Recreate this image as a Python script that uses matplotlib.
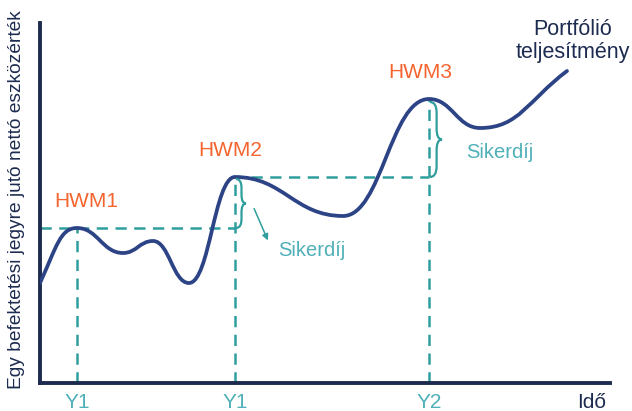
import matplotlib.pyplot as plt
from matplotlib.path import Path
from matplotlib.patches import PathPatch

# key points of the portfolio curve (time, value); all inner points are turning points
curve_t = [0, 37, 83, 113, 149, 195, 303, 389, 440, 527]
curve_v = [100, 155, 130, 142, 100, 206, 167, 284, 255, 312]
start_slope = 2.2
end_slope = 0.75

hwm_names = ["HWM1", "HWM2", "HWM3"]
hwm_t = [37, 195, 389]
hwm_v = [155, 206, 284]
tick_labels = ["Y1", "Y1", "Y2"]

NAVY = "#1c2b4f"
CURVE = "#2c4385"
TEAL = "#2f9e9d"
TEAL_TXT = "#4fb0b8"
ORANGE = "#f4642f"

plt.rcParams["font.family"] = ["Liberation Sans", "DejaVu Sans"]

fig = plt.figure(figsize=(6.32, 4.11), dpi=100)
ax = fig.add_axes([40 / 632, 28 / 411, 570 / 632, 360 / 411])
ax.set_xlim(0, 570)
ax.set_ylim(0, 360)

# smooth curve as cubic bezier segments
slopes = [start_slope] + [0.0] * (len(curve_t) - 2) + [end_slope]
verts = [(curve_t[0], curve_v[0])]
codes = [Path.MOVETO]
k = 0.45
for i in range(len(curve_t) - 1):
    dx = curve_t[i + 1] - curve_t[i]
    c1 = (curve_t[i] + k * dx, curve_v[i] + k * dx * slopes[i])
    c2 = (curve_t[i + 1] - k * dx, curve_v[i + 1] - k * dx * slopes[i + 1])
    verts += [c1, c2, (curve_t[i + 1], curve_v[i + 1])]
    codes += [Path.CURVE4] * 3
ax.add_patch(PathPatch(Path(verts, codes), fill=False, edgecolor=CURVE, lw=2.7,
                       capstyle="round", zorder=3))

# dashed guide lines
dash = dict(color=TEAL, lw=1.8, dashes=(4.5, 3), zorder=2)
for t, v in zip(hwm_t, hwm_v):
    ax.plot([t, t], [0, v], **dash)
ax.plot([0, hwm_t[1]], [hwm_v[0], hwm_v[0]], **dash)
ax.plot([hwm_t[1] + 16, hwm_t[2]], [hwm_v[1], hwm_v[1]], **dash)


def brace(x, y0, y1, w):
    ym = (y0 + y1) / 2
    h = w * 0.9
    vs = [(x, y0), (x + w * 0.55, y0), (x + w * 0.55, y0 + h),
          (x + w * 0.55, ym - h), (x + w * 0.55, ym), (x + w, ym),
          (x + w * 0.55, ym), (x + w * 0.55, ym + h),
          (x + w * 0.55, y1 - h), (x + w * 0.55, y1), (x, y1)]
    cs = [Path.MOVETO, Path.CURVE3, Path.CURVE3, Path.LINETO, Path.CURVE3, Path.CURVE3,
          Path.CURVE3, Path.CURVE3, Path.LINETO, Path.CURVE3, Path.CURVE3]
    ax.add_patch(PathPatch(Path(vs, cs), fill=False, edgecolor=TEAL, lw=1.6, zorder=4))


brace(hwm_t[1] + 1, hwm_v[0], hwm_v[1] - 2, 10)
brace(hwm_t[2] + 1, hwm_v[1], hwm_v[2] - 3, 12)

ax.annotate("", xy=(229, 140), xytext=(213, 177),
            arrowprops=dict(arrowstyle="-|>", color=TEAL, lw=1.1, mutation_scale=9))

offsets = {"HWM1": 9, "HWM2": -5, "HWM3": -9}
for name, t, v in zip(hwm_names, hwm_t, hwm_v):
    ax.text(t + offsets[name], v + 27, name, color=ORANGE, fontsize=15,
            ha="center", va="center")

ax.text(238, 133, "Sikerdíj", color=TEAL_TXT, fontsize=14.5, ha="left", va="center")
ax.text(426, 231, "Sikerdíj", color=TEAL_TXT, fontsize=14.5, ha="left", va="center")
ax.text(533, 342, "Portfólió\nteljesítmény", color=NAVY, fontsize=15.5, ha="center",
        va="center", linespacing=1.15, clip_on=False)
ax.text(552, -19, "Idő", color=NAVY, fontsize=15, ha="center", va="center", clip_on=False)

ax.set_xticks(hwm_t)
ax.set_xticklabels(tick_labels, color=TEAL_TXT, fontsize=15)
ax.tick_params(axis="x", length=0, pad=7)
ax.set_yticks([])
ax.set_ylabel("Egy befektetési jegyre jutó nettó eszközérték", fontsize=13.8,
              color=NAVY)
ax.yaxis.set_label_coords(-15 / 570, 0.51)

for s in ["top", "right"]:
    ax.spines[s].set_visible(False)
for s in ["left", "bottom"]:
    ax.spines[s].set_color(NAVY)
    ax.spines[s].set_linewidth(2.8)

fig.savefig("out.png", dpi=100)
